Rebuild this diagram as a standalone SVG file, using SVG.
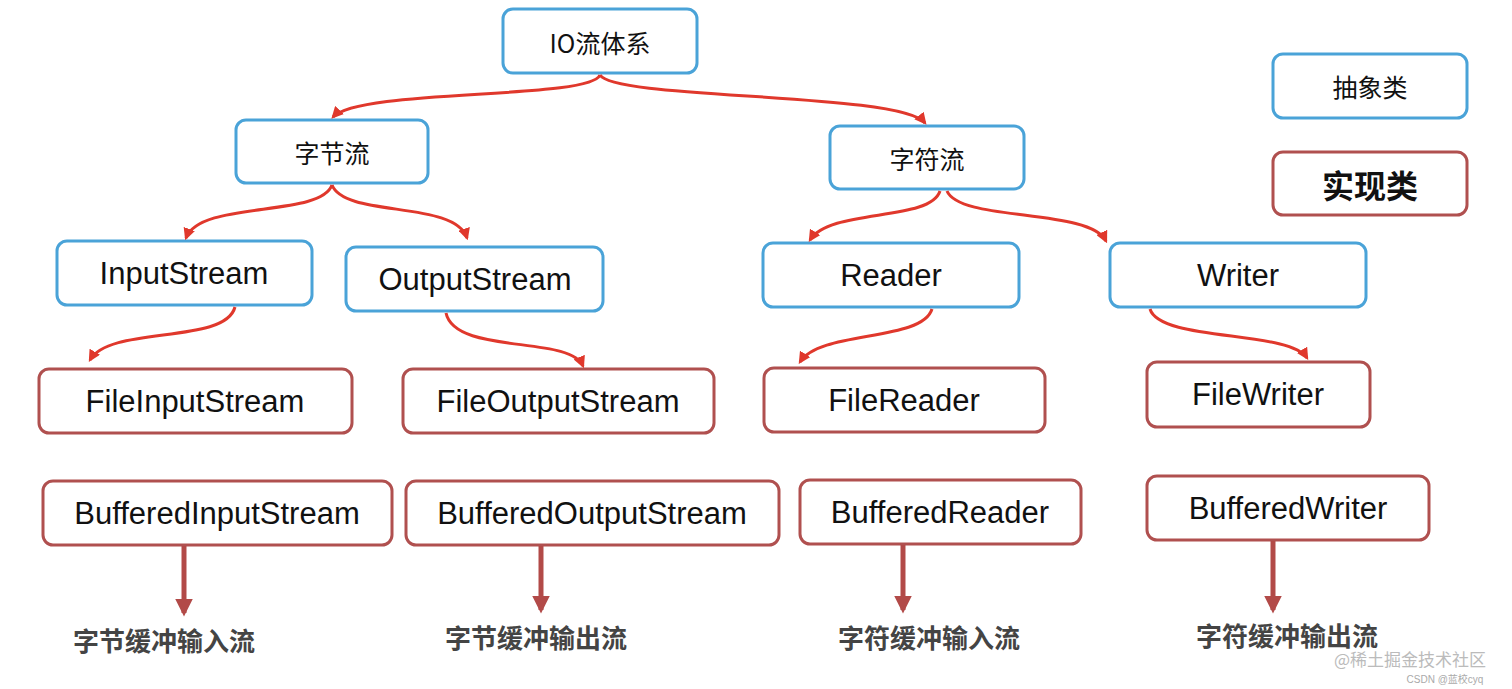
<svg xmlns="http://www.w3.org/2000/svg" width="1512" height="689" viewBox="0 0 1512 689">
<defs>
<marker id="ah" viewBox="0 0 10 10" refX="8" refY="5" markerWidth="4" markerHeight="4" orient="auto"><path d="M0,0L10,5L0,10z" fill="#e0382c"/></marker>
<marker id="dh" viewBox="0 0 10 10" refX="8" refY="5" markerWidth="3.5" markerHeight="3.5" orient="auto"><path d="M0,0L10,5L0,10z" fill="#b24a48"/></marker>
<style>
.a{fill:#fff;stroke:#4aa3d8;stroke-width:3}
.c{fill:#fff;stroke:#b0504f;stroke-width:3}
.t{font-family:"Liberation Sans","Noto Sans CJK SC",sans-serif;font-size:31px;fill:#111;text-anchor:middle;dominant-baseline:central}
.z{font-family:"Noto Sans CJK SC",sans-serif;font-size:25px;fill:#111;text-anchor:middle;dominant-baseline:central}
.l{font-family:"Noto Sans CJK SC",sans-serif;font-size:26px;font-weight:bold;fill:#444;text-anchor:middle;dominant-baseline:central}
.e{fill:none;stroke:#e0382c;stroke-width:3;marker-end:url(#ah)}
.d{fill:none;stroke:#b24a48;stroke-width:5;marker-end:url(#dh)}
</style>
</defs>
<g id="io"><rect class="a" x="503" y="9" width="194" height="64" rx="10"/><text class="z" x="600" y="42">IO流体系</text></g>
<g id="byte"><rect class="a" x="236" y="120" width="192" height="63" rx="10"/><text class="z" x="332" y="152">字节流</text></g>
<g id="char"><rect class="a" x="830" y="126" width="194" height="63" rx="10"/><text class="z" x="927" y="158">字符流</text></g>
<g id="abs"><rect class="a" x="1273" y="54" width="194" height="64" rx="10"/><text class="z" x="1370" y="86">抽象类</text></g>
<g id="impl"><rect class="c" x="1273" y="152" width="194" height="63" rx="10"/><text class="z" x="1370" y="184" style="font-size:32px;font-weight:bold">实现类</text></g>
<g id="is"><rect class="a" x="57" y="241" width="255" height="64" rx="10"/><text class="t" x="184" y="273">InputStream</text></g>
<g id="os"><rect class="a" x="346" y="247" width="257" height="64" rx="10"/><text class="t" x="475" y="279">OutputStream</text></g>
<g id="rd"><rect class="a" x="763" y="243" width="256" height="64" rx="10"/><text class="t" x="891" y="275">Reader</text></g>
<g id="wr"><rect class="a" x="1110" y="243" width="256" height="64" rx="10"/><text class="t" x="1238" y="275">Writer</text></g>
<g id="fis"><rect class="c" x="39" y="369" width="313" height="64" rx="10"/><text class="t" x="195" y="401">FileInputStream</text></g>
<g id="fos"><rect class="c" x="403" y="369" width="311" height="64" rx="10"/><text class="t" x="558" y="401">FileOutputStream</text></g>
<g id="fr"><rect class="c" x="764" y="368" width="281" height="64" rx="10"/><text class="t" x="904" y="400">FileReader</text></g>
<g id="fw"><rect class="c" x="1147" y="362" width="223" height="65" rx="10"/><text class="t" x="1258" y="394">FileWriter</text></g>
<g id="bis"><rect class="c" x="43" y="481" width="349" height="64" rx="10"/><text class="t" x="217" y="513">BufferedInputStream</text></g>
<g id="bos"><rect class="c" x="406" y="481" width="373" height="64" rx="10"/><text class="t" x="592" y="513">BufferedOutputStream</text></g>
<g id="br"><rect class="c" x="800" y="480" width="281" height="64" rx="10"/><text class="t" x="940" y="512">BufferedReader</text></g>
<g id="bw"><rect class="c" x="1147" y="476" width="282" height="64" rx="10"/><text class="t" x="1288" y="508">BufferedWriter</text></g>
<g id="labels">
<text class="l" x="164" y="639">字节缓冲输入流</text>
<text class="l" x="536" y="636">字节缓冲输出流</text>
<text class="l" x="929" y="636">字符缓冲输入流</text>
<text class="l" x="1287" y="634">字符缓冲输出流</text>
</g>
<g id="connectors">
<path class="e" d="M600,75 C590,100 360,88 333,117"/>
<path class="e" d="M600,75 C615,100 900,92 925,123"/>
<path class="e" d="M332,185 C320,218 200,200 186,238"/>
<path class="e" d="M332,185 C345,218 455,200 467,238"/>
<path class="e" d="M235,307 C225,345 110,325 90,360"/>
<path class="e" d="M446,313 C455,355 570,335 583,366"/>
<path class="e" d="M940,191 C930,222 830,208 810,240"/>
<path class="e" d="M947,191 C960,222 1090,208 1106,241"/>
<path class="e" d="M932,309 C922,342 820,330 800,362"/>
<path class="e" d="M1150,309 C1160,342 1290,330 1307,358"/>
<path class="d" d="M184,546V613"/>
<path class="d" d="M541,546V610"/>
<path class="d" d="M903,545V610"/>
<path class="d" d="M1273,541V610"/>
</g>
<text x="1410" y="666" style="font-family:'Noto Sans CJK SC',sans-serif;font-size:17px;fill:#bbb;text-anchor:middle">@稀土掘金技术社区</text>
<text x="1445" y="683" style="font-family:'Liberation Sans','Noto Sans CJK SC',sans-serif;font-size:10px;fill:#aaa;text-anchor:middle">CSDN @蓝校cyq</text>
</svg>
